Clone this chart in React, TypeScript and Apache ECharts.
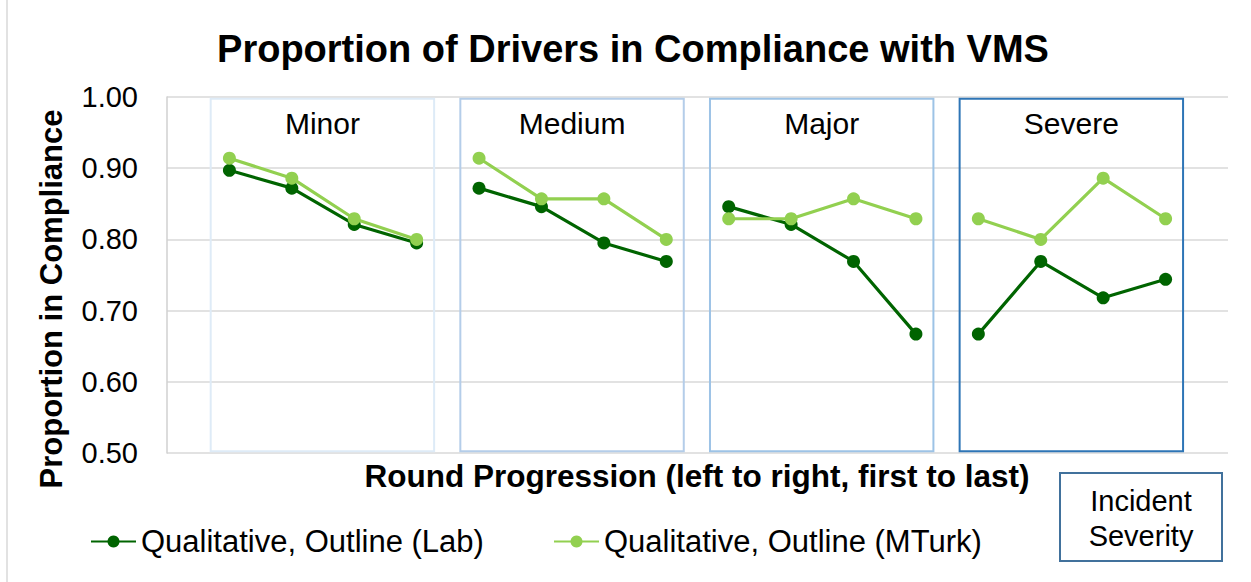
import React, { useEffect, useRef } from "react";
import * as echarts from "echarts";

const groups = ["Minor", "Medium", "Major", "Severe"];
const rounds = [1, 2, 3, 4];
const labValues = [
  [0.897, 0.872, 0.821, 0.795],
  [0.872, 0.846, 0.795, 0.769],
  [0.846, 0.821, 0.769, 0.667],
  [0.667, 0.769, 0.718, 0.744],
];
const mturkValues = [
  [0.914, 0.886, 0.829, 0.8],
  [0.914, 0.857, 0.857, 0.8],
  [0.829, 0.829, 0.857, 0.829],
  [0.829, 0.8, 0.886, 0.829],
];
const labName = "Qualitative, Outline (Lab)";
const mturkName = "Qualitative, Outline (MTurk)";
const yMin = 0.5;
const yMax = 1.0;
const yInterval = 0.1;

const FONT = "'Liberation Sans', Arial, sans-serif";
const LAB_COLOR = "#006400";
const MTURK_COLOR = "#92d050";
const boxColors = ["#deebf7", "#b4cde9", "#9dc3e6", "#2e75b6"];

export default function App() {
  const ref = useRef<HTMLDivElement>(null);
  useEffect(() => {
    document.body.style.margin = "0";
    const chart = echarts.init(ref.current!, undefined, { renderer: "svg" });
    const n = rounds.length;
    const makeSeries = (name: string, vals: number[][], color: string, withBox: boolean) =>
      vals.map((gv, g) => ({
        type: "line",
        name,
        data: gv.map((v, r) => [g * n + rounds[r], v]),
        symbol: "circle",
        symbolSize: 13,
        lineStyle: { color, width: 3.2 },
        itemStyle: { color },
        z: withBox ? 3 : 4,
        markArea: withBox
          ? {
              silent: true,
              itemStyle: {
                color: "rgba(0,0,0,0)",
                borderColor: boxColors[g],
                borderWidth: 2,
              },
              label: {
                show: true,
                position: "insideTop",
                distance: 11,
                color: "#000",
                fontSize: 30,
                fontFamily: FONT,
              },
              data: [
                [
                  { name: groups[g], xAxis: g * n + 0.7, yAxis: 0.5025 },
                  { xAxis: g * n + 4.28, yAxis: 0.9975 },
                ],
              ],
            }
          : undefined,
      }));

    const legendBase = {
      top: 526,
      padding: 0,
      itemWidth: 45,
      itemHeight: 15,
      textStyle: { fontSize: 31, color: "#000", fontFamily: FONT },
    };

    const option: any = {
      animation: false,
      backgroundColor: "#fff",
      title: {
        text: "Proportion of Drivers in Compliance with VMS",
        left: 628,
        textAlign: "center",
        top: 25,
        textStyle: { fontSize: 38, fontWeight: "bold", color: "#000", fontFamily: FONT },
      },
      grid: { left: 167, right: 23, top: 97, bottom: 129, containLabel: false },
      xAxis: {
        type: "value",
        min: 0,
        max: groups.length * n + 1,
        show: false,
      },
      yAxis: {
        type: "value",
        min: yMin,
        max: yMax,
        interval: yInterval,
        axisLine: { show: true, lineStyle: { color: "#d0d0d0", width: 1.5 } },
        axisTick: { show: false },
        axisLabel: {
          formatter: (v: number) => v.toFixed(2),
          fontSize: 29,
          color: "#000",
          fontFamily: FONT,
          margin: 29,
        },
        splitLine: { show: true, lineStyle: { color: "#d9d9d9", width: 1.5 } },
      },
      legend: [
        { ...legendBase, data: [labName], left: 90 },
        { ...legendBase, data: [mturkName], left: 553 },
      ],
      graphic: [
        {
          type: "line",
          shape: { x1: 7, y1: 0, x2: 7, y2: 582 },
          style: { stroke: "#d9d9d9", lineWidth: 1.5 },
        },
        {
          type: "text",
          x: 51,
          y: 299,
          rotation: Math.PI / 2,
          style: {
            text: "Proportion in Compliance",
            fontSize: 31,
            fontWeight: "bold",
            fill: "#000",
            fontFamily: FONT,
            align: "center",
            verticalAlign: "middle",
          },
        },
        {
          type: "text",
          x: 697,
          y: 476,
          style: {
            text: "Round Progression (left to right, first to last)",
            fontSize: 31.5,
            fontWeight: "bold",
            fill: "#000",
            fontFamily: FONT,
            align: "center",
            verticalAlign: "middle",
          },
        },
        {
          type: "rect",
          shape: { x: 1060, y: 473, width: 162, height: 88 },
          style: { fill: "#fff", stroke: "#41719c", lineWidth: 2 },
        },
        {
          type: "text",
          x: 1141,
          y: 501,
          style: {
            text: "Incident",
            fontSize: 29,
            fill: "#000",
            fontFamily: FONT,
            align: "center",
            verticalAlign: "middle",
          },
        },
        {
          type: "text",
          x: 1141,
          y: 536,
          style: {
            text: "Severity",
            fontSize: 29,
            fill: "#000",
            fontFamily: FONT,
            align: "center",
            verticalAlign: "middle",
          },
        },
      ],
      series: [
        ...makeSeries(labName, labValues, LAB_COLOR, true),
        ...makeSeries(mturkName, mturkValues, MTURK_COLOR, false),
      ],
    };
    chart.setOption(option);
    return () => chart.dispose();
  }, []);
  return (
    <div
      ref={ref}
      style={{ position: "absolute", left: 0, top: 0, width: 1251, height: 582 }}
    />
  );
}
